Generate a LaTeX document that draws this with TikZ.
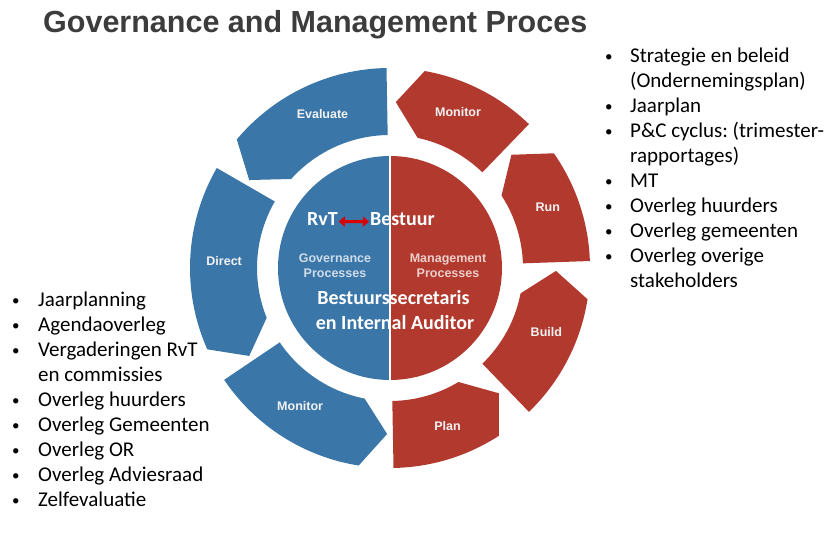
\documentclass[tikz,border=0pt]{standalone}
\usepackage{fontspec}
\setmainfont{Carlito}
\newfontfamily\arialfont{Liberation Sans}
\usetikzlibrary{arrows.meta}

\definecolor{govblue}{RGB}{59,118,168}
\definecolor{mgmtred}{RGB}{177,57,46}
\definecolor{titlegray}{RGB}{60,60,60}

% one piece of the ring: colour, flat end, tip angle
\newcommand{\ringpart}[3]{%
  \fill[#1] (#2:200) arc[start angle=#2, end angle={#3-8}, radius=200]
    -- (#3:166) -- ({#3-10}:133) arc[start angle={#3-10}, end angle=#2, radius=133] -- cycle;}
\newcommand{\itemdot}{\raisebox{1.5pt}{\fontsize{15}{15}\selectfont\textbullet}}

\begin{document}
\frenchspacing
\begin{tikzpicture}[x=1pt, y=1pt,
    part label/.style={font=\arialfont\bfseries\fontsize{12.5}{14}\selectfont, text=white!90!gray},
    inner label/.style={font=\arialfont\bfseries\fontsize{12.5}{15}\selectfont, align=center, inner sep=0pt},
    white label/.style={font=\bfseries\fontsize{20}{25}\selectfont, text=white, inner sep=0pt},
    bullet list/.style={font=\fontsize{21}{25}\selectfont, inner sep=0pt, anchor=base west}]

  \useasboundingbox (0,0) rectangle (839,546);

  \node[font=\arialfont\bfseries\fontsize{30.5}{36}\selectfont, text=titlegray, inner sep=0pt, anchor=base west]
    (title) at (43,513) {Governance and Management Proces};

  \begin{scope}[shift={(390,278)}]
    \ringpart{govblue}{91}{148}
    \ringpart{govblue}{150}{212}
    \ringpart{govblue}{214}{269}
    \ringpart{mgmtred}{271}{311}
    \ringpart{mgmtred}{314}{359}
    \ringpart{mgmtred}{2}{43}
    \ringpart{mgmtred}{46}{88}

    \fill[govblue] (0,112) arc[start angle=90, end angle=270, radius=112] -- cycle;
    \fill[mgmtred] (0,-112) arc[start angle=-90, end angle=90, radius=112] -- cycle;
    \draw[white, line width=2.5] (0,114) -- (0,-114);

    \node[part label] (evaluate) at (113.7:168) {Evaluate};
    \node[part label] (direct) at (177.6:166) {Direct};
    \node[part label] (govmonitor) at (237:165) {Monitor};
    \node[part label] (plan) at (290:168) {Plan};
    \node[part label] (build) at (337.7:169) {Build};
    \node[part label] (run) at (21:169) {Run};
    \node[part label] (mgmtmonitor) at (66.4:170) {Monitor};

    \node[inner label, text=white!75!govblue] (gov) at (-55,2.5) {Governance\\Processes};
    \node[inner label, text=white!75!mgmtred] (mgmt) at (58,2.5) {Management\\Processes};

    \node[white label, anchor=base west] (rvt) at (-83,42) {RvT};
    \node[white label, anchor=base west] (bestuur) at (-20,42) {Bestuur};
    \draw[{Triangle[length=6pt,width=10pt]}-{Triangle[length=6pt,width=10pt]}, red!85!black, line width=3pt]
      ([xshift=1pt,yshift=-2pt]rvt.east) -- ([xshift=-1pt,yshift=-2pt]bestuur.west);

    \node[white label, anchor=base] (secretaris) at (3.5,-37) {Bestuurssecretaris};
    \node[white label, anchor=base] (auditor) at (5,-62) {en Internal Auditor};
  \end{scope}

  \node[bullet list] (mgmtlist) at (605,483) {%
    \begin{tabular}[t]{@{}p{25pt}@{}l@{}}
      \itemdot & Strategie en beleid\\
               & (Ondernemingsplan)\\
      \itemdot & Jaarplan\\
      \itemdot & P\&C cyclus: (trimester-\\
               & rapportages)\\
      \itemdot & MT\\
      \itemdot & Overleg huurders\\
      \itemdot & Overleg gemeenten\\
      \itemdot & Overleg overige\\
               & stakeholders
    \end{tabular}};

  \node[bullet list] (govlist) at (12,239) {%
    \begin{tabular}[t]{@{}p{26pt}@{}l@{}}
      \itemdot & Jaarplanning\\
      \itemdot & Agendaoverleg\\
      \itemdot & Vergaderingen RvT\\
               & en commissies\\
      \itemdot & Overleg huurders\\
      \itemdot & Overleg Gemeenten\\
      \itemdot & Overleg OR\\
      \itemdot & Overleg Adviesraad\\
      \itemdot & Zelfevaluatie
    \end{tabular}};

\end{tikzpicture}
\end{document}
